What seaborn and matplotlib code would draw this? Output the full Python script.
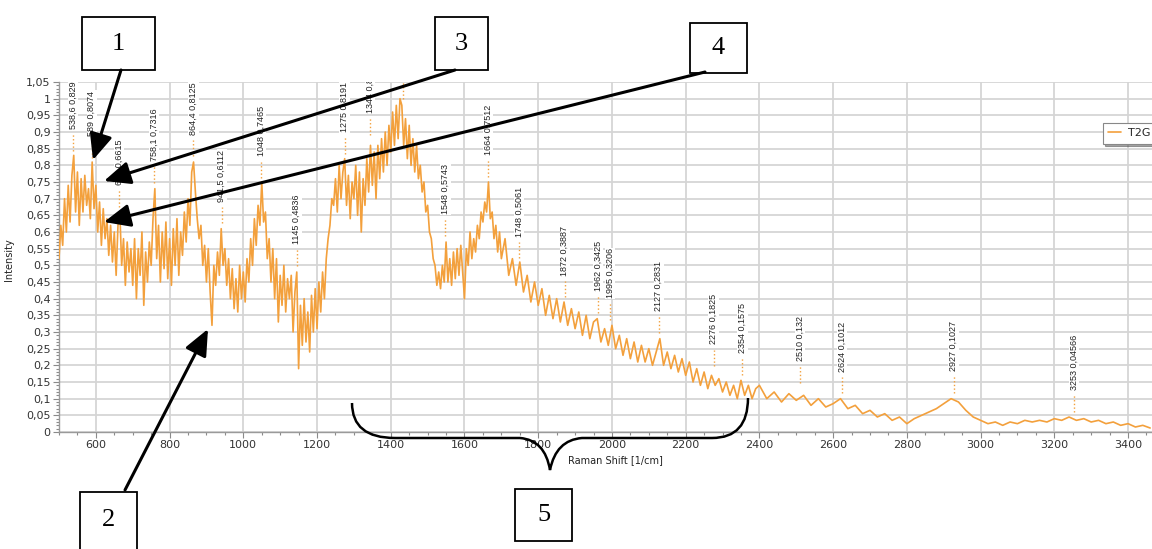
import numpy as np
import pandas as pd
import matplotlib
matplotlib.use("Agg")
import matplotlib.pyplot as plt
import seaborn as sns
from matplotlib.ticker import MultipleLocator, FuncFormatter
from matplotlib.patches import Rectangle, PathPatch
from matplotlib.path import Path

# ---------------- data ----------------
shift_a = np.arange(500, 1700, 5)
intensity_a = [
    0.52, 0.62, 0.56, 0.70, 0.60, 0.74, 0.63, 0.77, 0.83, 0.66,
    0.78, 0.62, 0.76, 0.66, 0.77, 0.68, 0.73, 0.64, 0.81, 0.67,
    0.74, 0.60, 0.69, 0.56, 0.67, 0.58, 0.64, 0.53, 0.62, 0.51,
    0.60, 0.47, 0.62, 0.66, 0.50, 0.58, 0.44, 0.57, 0.48, 0.55,
    0.44, 0.58, 0.40, 0.55, 0.47, 0.60, 0.38, 0.54, 0.45, 0.57,
    0.50, 0.64, 0.73, 0.52, 0.62, 0.45, 0.60, 0.49, 0.63, 0.46,
    0.58, 0.44, 0.61, 0.50, 0.64, 0.47, 0.60, 0.53, 0.66, 0.57,
    0.70, 0.62, 0.78, 0.81, 0.72, 0.64, 0.58, 0.62, 0.50, 0.56,
    0.45, 0.55, 0.42, 0.32, 0.50, 0.44, 0.54, 0.47, 0.61, 0.50,
    0.55, 0.44, 0.52, 0.40, 0.49, 0.37, 0.46, 0.36, 0.50, 0.40,
    0.48, 0.39, 0.52, 0.45, 0.58, 0.50, 0.64, 0.56, 0.68, 0.62,
    0.75, 0.63, 0.66, 0.52, 0.58, 0.45, 0.55, 0.40, 0.52, 0.33,
    0.47, 0.38, 0.50, 0.36, 0.46, 0.40, 0.47, 0.30, 0.42, 0.48,
    0.19, 0.38, 0.26, 0.40, 0.27, 0.36, 0.24, 0.41, 0.30, 0.43,
    0.31, 0.45, 0.36, 0.48, 0.40, 0.52, 0.58, 0.62, 0.70, 0.68,
    0.76, 0.66, 0.80, 0.70, 0.78, 0.82, 0.68, 0.77, 0.64, 0.75,
    0.70, 0.80, 0.65, 0.78, 0.60, 0.76, 0.68, 0.82, 0.72, 0.86,
    0.74, 0.84, 0.70, 0.86, 0.76, 0.88, 0.78, 0.90, 0.80, 0.92,
    0.84, 0.96, 0.86, 0.98, 0.88, 1.00, 0.98, 0.86, 0.94, 0.82,
    0.92, 0.80, 0.88, 0.78, 0.86, 0.76, 0.80, 0.72, 0.75, 0.66,
    0.68, 0.60, 0.58, 0.52, 0.50, 0.44, 0.48, 0.43, 0.50, 0.45,
    0.57, 0.45, 0.52, 0.44, 0.54, 0.46, 0.55, 0.47, 0.56, 0.48,
    0.40, 0.55, 0.50, 0.60, 0.52, 0.58, 0.54, 0.62, 0.58, 0.66,
    0.63, 0.69, 0.66, 0.75, 0.64, 0.66, 0.58, 0.62, 0.54, 0.60,
]
shift_b = np.arange(1700, 2400, 10)
intensity_b = [
    0.52, 0.58, 0.47, 0.52, 0.44, 0.51, 0.42, 0.47, 0.39, 0.45,
    0.38, 0.43, 0.35, 0.41, 0.34, 0.40, 0.33, 0.39, 0.32, 0.37,
    0.31, 0.36, 0.29, 0.35, 0.28, 0.33, 0.34, 0.27, 0.31, 0.26,
    0.32, 0.25, 0.29, 0.23, 0.28, 0.22, 0.27, 0.21, 0.26, 0.21,
    0.25, 0.20, 0.24, 0.28, 0.20, 0.24, 0.19, 0.23, 0.18, 0.22,
    0.17, 0.21, 0.15, 0.19, 0.14, 0.18, 0.13, 0.17, 0.14, 0.16,
    0.12, 0.15, 0.11, 0.14, 0.10, 0.155, 0.11, 0.14, 0.10, 0.13,
]
shift_c = np.arange(2400, 3461, 20)
intensity_c = [
    0.14, 0.10, 0.12, 0.09, 0.115, 0.095, 0.11, 0.08, 0.10, 0.075,
    0.085, 0.10, 0.07, 0.08, 0.055, 0.065, 0.045, 0.055, 0.035, 0.045,
    0.025, 0.04, 0.05, 0.06, 0.07, 0.085, 0.10, 0.09, 0.065, 0.045,
    0.035, 0.025, 0.03, 0.02, 0.03, 0.025, 0.035, 0.03, 0.035, 0.03,
    0.04, 0.035, 0.045, 0.035, 0.04, 0.03, 0.035, 0.025, 0.03, 0.02,
    0.025, 0.015, 0.02, 0.012,
]

peak_shift = [538.6, 589, 663, 758.1, 864.4, 941.5, 1048, 1145, 1275, 1344,
              1433, 1548, 1664, 1748, 1872, 1962, 1995, 2127, 2276, 2354,
              2510, 2624, 2927, 3253]
peak_value = [0.829, 0.8074, 0.6615, 0.7316, 0.8125, 0.6112, 0.7465, 0.4836,
              0.8191, 0.8775, 0.985, 0.5743, 0.7512, 0.5061, 0.3887, 0.3425,
              0.3206, 0.2831, 0.1825, 0.1575, 0.132, 0.1012, 0.1027, 0.04566]
peak_label = ["538,6 0,829", "589 0,8074", "663 0,6615", "758,1 0,7316",
              "864,4 0,8125", "941,5 0,6112", "1048 0,7465", "1145 0,4836",
              "1275 0,8191", "1344 0,8775", "1433 0,985", "1548 0,5743",
              "1664 0,7512", "1748 0,5061", "1872 0,3887", "1962 0,3425",
              "1995 0,3206", "2127 0,2831", "2276 0,1825", "2354 0,1575",
              "2510 0,132", "2624 0,1012", "2927 0,1027", "3253 0,04566"]

series_name = "T2G"
x_title = "Raman Shift [1/cm]"
y_title = "Intensity"

# overlay call-outs (figure pixel coordinates)
box_labels = ["1", "3", "4", "2", "5"]
box_rects = [(82, 17, 73, 53), (435, 17, 53, 53), (690, 23, 57, 50),
             (80, 492, 57, 60), (515, 489, 57, 52)]
arrow_from = [(121, 70), (455, 70), (705, 72), (125, 490)]
arrow_to = [(93, 160), (104, 181), (104, 222), (208, 329)]

# ---------------- plotting ----------------
sns.set_theme(style="whitegrid")
plt.rcParams["font.family"] = ["DejaVu Sans"]

W, H = 1152, 549
fig = plt.figure(figsize=(W / 100, H / 100), dpi=100)
fig.patch.set_facecolor("white")
ax_left, ax_right, ax_top, ax_bottom = 59, 1152, 82, 432
ax = fig.add_axes([ax_left / W, 1 - ax_bottom / H,
                   (ax_right - ax_left) / W, (ax_bottom - ax_top) / H])
ax.set_facecolor("white")

df = pd.DataFrame({
    "shift": np.concatenate([shift_a, shift_b, shift_c]),
    "intensity": np.concatenate([intensity_a, intensity_b, intensity_c]),
})
line_color = "#F3A03C"
sns.lineplot(data=df, x="shift", y="intensity", ax=ax, color=line_color,
             lw=1.2, estimator=None, sort=False, label=series_name, zorder=3)

ax.set_xlim(500, 3465)
ax.set_ylim(0, 1.05)

pv = np.array(peak_value)
ax.vlines(peak_shift, pv + 0.015, pv + 0.065, colors=line_color,
          linestyles=":", lw=1.0, zorder=4)
for xs, v, lab in zip(peak_shift, peak_value, peak_label):
    ax.text(xs, v + 0.08, lab, rotation=90, ha="center", va="bottom",
            fontsize=6.5, family="Liberation Sans", color="#222222",
            bbox=dict(fc="white", ec="none", pad=0.5), clip_on=True, zorder=5)

ax.xaxis.set_major_locator(MultipleLocator(200))
ax.xaxis.set_minor_locator(MultipleLocator(50))
ax.yaxis.set_major_locator(MultipleLocator(0.05))
ax.yaxis.set_minor_locator(MultipleLocator(0.01))
ax.yaxis.set_major_formatter(FuncFormatter(
    lambda v, p: f"{round(v, 2):g}".replace(".", ",")))
ax.xaxis.set_major_formatter(FuncFormatter(lambda v, p: f"{int(round(v))}"))

ax.grid(True, which="major", color="#d5d5d5", lw=1.3)
ax.grid(False, which="minor")
for s in ["top", "right"]:
    ax.spines[s].set_visible(False)
for s in ["left", "bottom"]:
    ax.spines[s].set_color("#9a9a9a")
    ax.spines[s].set_linewidth(1.0)
ax.tick_params(which="both", bottom=True, left=True, direction="out",
               color="#8a8a8a", width=0.8)
ax.tick_params(which="major", length=4, labelsize=8, labelcolor="#333333", pad=2)
ax.tick_params(which="minor", length=2)

ax.set_xlabel(x_title, fontsize=7, color="#222222")
ax.set_ylabel(y_title, fontsize=7, color="#222222")
ax.xaxis.set_label_coords((615 - ax_left) / (ax_right - ax_left),
                          -(455 - ax_bottom) / (ax_bottom - ax_top))
ax.yaxis.set_label_coords((14 - ax_left) / (ax_right - ax_left),
                          (ax_bottom - 260) / (ax_bottom - ax_top))

leg = ax.legend(loc="upper left", bbox_to_anchor=(1097 / W, 1 - 117 / H),
                bbox_transform=fig.transFigure, fontsize=8, frameon=True,
                fancybox=False, shadow=True, handlelength=1.2,
                borderpad=0.5, handletextpad=0.6)
leg.get_frame().set_edgecolor("#888888")
leg.get_frame().set_linewidth(0.8)

# ---------------- overlay call-outs ----------------
ov = fig.add_axes([0, 0, 1, 1], zorder=20)
ov.set_xlim(0, W)
ov.set_ylim(H, 0)
ov.axis("off")
ov.patch.set_alpha(0)

for lab, (bx, by, bw, bh) in zip(box_labels, box_rects):
    ov.add_patch(Rectangle((bx, by), bw, bh, fc="white", ec="black", lw=1.3))
    cy = by + min(bh, H - by) / 2 if by + bh > H else by + bh / 2
    ov.text(bx + bw / 2, cy, lab, ha="center", va="center",
            fontsize=19, family="Liberation Serif", color="black")

for (x0, y0), (x1, y1) in zip(arrow_from, arrow_to):
    ov.annotate("", xy=(x1, y1), xytext=(x0, y0),
                arrowprops=dict(arrowstyle="-|>,head_length=0.8,head_width=0.35",
                                color="black", lw=2.2, shrinkA=0, shrinkB=0,
                                mutation_scale=20))

brace_pts = [(352, 403), (352, 438), (395, 438), (520, 438),
             (545, 440), (550, 470), (556, 440), (582, 438),
             (712, 438), (748, 438), (748, 398)]
brace_codes = [Path.MOVETO, Path.CURVE3, Path.CURVE3, Path.LINETO,
               Path.CURVE3, Path.CURVE3, Path.CURVE3, Path.CURVE3,
               Path.LINETO, Path.CURVE3, Path.CURVE3]
ov.add_patch(PathPatch(Path(brace_pts, brace_codes), fc="none", ec="black", lw=1.8))

fig.savefig("out.png", dpi=100, facecolor="white")
